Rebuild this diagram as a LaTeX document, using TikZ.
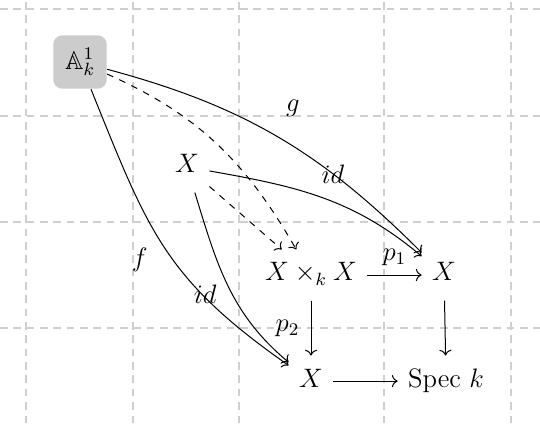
\documentclass[tikz,border=0pt]{standalone}
\usepackage{amssymb}
\usetikzlibrary{arrows.meta}
\definecolor{gridgray}{HTML}{CFCFCF}
\definecolor{selgray}{HTML}{CCCCCC}

\begin{document}
\begin{tikzpicture}[
  x=1.684cm,y=1.684cm,>={Computer Modern Rightarrow},line width=0.45pt,
  font=\fontsize{11.5}{14}\selectfont,
  obj/.style={inner xsep=4.5pt,inner ysep=7.5pt,text height=1.5ex,text depth=0.25ex},
  selbox/.style={fill=selgray,rounded corners=4pt,minimum size=24pt,inner sep=0pt},
  lab/.style={inner sep=1pt},
  gridline/.style={draw=gridgray,line width=0.55pt,dash pattern=on 3.4pt off 2.6pt}
]
\useasboundingbox (0,0) rectangle (5.070,3.972);
% cell grid
\foreach \gx in {0.244,1.249,2.244,3.606,4.798}
  \draw[gridline] (\gx,0) -- (\gx,3.972);
\foreach \gy in {0.892,1.887,2.883,3.887}
  \draw[gridline] (0,\gy) -- (5.070,\gy);

\node[selbox] (aff) at (0.751,3.390) {$\mathbb{A}^1_k$};
\node[obj] (X) at (1.756,2.404) {$X$};
\node[obj] (XX) at (2.920,1.390) {$X \times_k X$};
\node[obj] (X1) at (4.169,1.390) {$X$};
\node[obj] (X2) at (2.920,0.394) {$X$};
\node[obj] (spec) at (4.188,0.394) {$\mathrm{Spec}\ k$};

% square
\draw[->] (XX) -- node[lab,above=3pt] {$p_1$} (X1);
\draw[->] (XX) -- node[lab,left=4pt] {$p_2$} (X2);
\draw[->] (X1) -- (spec);
\draw[->] (X2) -- (spec);
% induced maps
\draw[->,dashed] (X) -- (XX);
\draw[->,dashed] (aff) to[out=-24,in=120] (XX);
\draw[->] (aff) to[out=-15,in=135] node[lab,pos=0.55,above=12pt] {$g$} (X1);
\draw[->] (aff) to[out=-68,in=145,looseness=1.15] node[lab,pos=0.55,left=10pt] {$f$} (X2);
\draw[->] (X) to[out=-10,in=140] node[lab,pos=0.55,above=7pt] {$id$} (X1);
\draw[->] (X) to[out=-73,in=140] node[lab,pos=0.55,left=6pt] {$id$} (X2);
\end{tikzpicture}
\end{document}
